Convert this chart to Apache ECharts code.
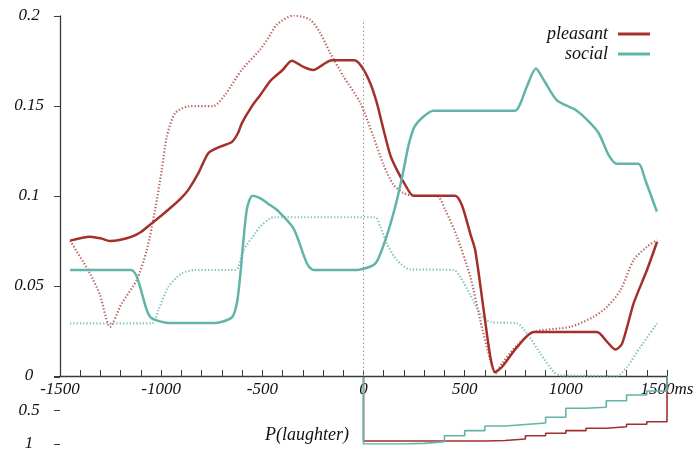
<!DOCTYPE html>
<html>
<head>
<meta charset="utf-8">
<script src="https://cdn.jsdelivr.net/npm/echarts@6/dist/echarts.min.js"></script>
<style>html,body{margin:0;padding:0;background:#fff}#c{width:699px;height:450px}</style>
</head>
<body>
<div id="c"></div>
<script>
// ---- data (time in ms) ----
var tPleasant = [-1450,-1352,-1300,-1253,-1200,-1145,-1100,-1047,-1000,-948,-900,-866,-816,-767,-717,-651,-620,-601,-552,-511,-462,-445,-400,-354,-297,-248,-200,-157,-45,-8,33,66,99,132,165,206,247,453,486,528,552,594,627,651,684,759,841,1154,1204,1245,1278,1335,1401,1451];
var pleasant  = [0.0752,0.0774,0.0765,0.075,0.0757,0.0774,0.080,0.0848,0.089,0.094,0.099,0.1034,0.1127,0.1238,0.127,0.130,0.135,0.1405,0.1498,0.156,0.1637,0.1656,0.170,0.1752,0.1717,0.170,0.173,0.1754,0.1754,0.1717,0.1628,0.1517,0.1368,0.1229,0.1145,0.1062,0.1002,0.1002,0.095,0.079,0.070,0.0366,0.0106,0.0022,0.005,0.016,0.0245,0.0245,0.019,0.0147,0.018,0.0403,0.0589,0.0746];

var tPleasantDot = [-1450,-1352,-1302,-1253,-1195,-1121,-1071,-1030,-997,-972,-931,-866,-742,-684,-601,-511,-470,-428,-346,-264,-214,-165,-99,-16,49,99,148,198,247,363,404,462,528,577,627,651,684,759,841,1022,1137,1204,1270,1335,1401,1451];
var pleasantDot  = [0.0752,0.057,0.0449,0.0273,0.0403,0.0533,0.070,0.0923,0.1145,0.133,0.146,0.1498,0.150,0.1563,0.1702,0.1813,0.1879,0.1953,0.2003,0.198,0.1906,0.1795,0.1665,0.1517,0.133,0.1173,0.1062,0.1016,0.1002,0.1,0.0923,0.0774,0.0551,0.031,0.0087,0.0013,0.0069,0.0171,0.0245,0.0273,0.0329,0.0384,0.0477,0.0644,0.0718,0.0756];

var tSocial = [-1450,-1148,-1120,-1071,-1046,-964,-734,-651,-626,-610,-577,-549,-511,-462,-428,-346,-280,-248,-33,49,74,124,165,198,223,251,297,346,750,775,808,852,890,956,1047,1104,1162,1211,1252,1359,1392,1450];
var social  = [0.0589,0.0589,0.0551,0.0366,0.032,0.0295,0.0295,0.0325,0.0403,0.055,0.0923,0.1002,0.0988,0.095,0.0923,0.082,0.0626,0.0589,0.0589,0.0616,0.0654,0.0811,0.0978,0.1145,0.1284,0.1383,0.1442,0.1474,0.1474,0.1513,0.161,0.1708,0.1646,0.1531,0.1479,0.1424,0.135,0.1229,0.1179,0.1179,0.109,0.0913];

var tSocialDot = [-1450,-1046,-1014,-964,-898,-832,-634,-593,-535,-511,-462,-445,58,83,115,165,231,445,478,528,577,627,759,808,874,940,973,1252,1302,1368,1451];
var socialDot  = [0.0292,0.0292,0.0366,0.0496,0.057,0.0589,0.0589,0.070,0.0793,0.083,0.0876,0.0882,0.0882,0.083,0.0737,0.0644,0.0592,0.0589,0.0551,0.045,0.0347,0.030,0.0292,0.0236,0.0125,0.0022,0.0004,0.0,0.005,0.016,0.0292];

// P(laughter) step curves (value holds from its time until the next time)
var tStepSocial = [0,0,200,300,400,500,600,700,800,900,1000,1100,1200,1300,1400,1500];
var stepSocial  = [0,1.0,0.99,0.966,0.876,0.80,0.731,0.709,0.687,0.601,0.467,0.452,0.354,0.269,0.209,0];
var tStepPleasant = [0,0,600,700,800,900,1000,1100,1200,1300,1400,1500];
var stepPleasant  = [0,0.955,0.948,0.925,0.876,0.84,0.80,0.766,0.742,0.706,0.667,0];

var xTicks = [-1500,-1000,-500,0,500,1000,1500];

function zip(a,b){ return a.map(function(v,i){ return [v,b[i]]; }); }

var RED = '#a3302b', TEAL = '#62b4a9';
var FONT = '"Liberation Serif", "DejaVu Serif", serif';
var AX = '#3a3a3a';

var chart = echarts.init(document.getElementById('c'), null, {renderer:'canvas'});
chart.setOption({
  animation: false,
  backgroundColor: '#fff',
  grid: [
    {left: 60, right: 32, top: 16, bottom: 74, outerBoundsMode: 'none', containLabel: false},
    {left: 60, right: 32, top: 377, bottom: 6, outerBoundsMode: 'none', containLabel: false}
  ],
  legend: {
    data: ['pleasant','social'],
    orient: 'vertical', right: 44, top: 20, align: 'right',
    icon: 'rect', itemWidth: 32, itemHeight: 3, itemGap: 2,
    textStyle: {fontFamily: FONT, fontStyle: 'italic', fontSize: 18, color: '#111', lineHeight: 17, padding: [0,5,0,0]}
  },
  xAxis: [
    {gridIndex: 0, type: 'value', min: xTicks[0], max: xTicks[xTicks.length-1], interval: 500,
     axisLine: {show: true, onZero: false, lineStyle: {color: AX, width: 1.3}},
     axisTick: {show: true, inside: true, length: 6, lineStyle: {color: AX}},
     minorTick: {show: true, splitNumber: 5, length: 6, lineStyle: {color: AX}},
     splitLine: {show: false},
     axisLabel: {show: true, margin: 5, showMinLabel: true, showMaxLabel: true,
       fontFamily: FONT, fontStyle: 'italic', fontSize: 17, color: '#111',
       formatter: function(v){ return v === 1500 ? '1500ms' : String(v); }}},
    {gridIndex: 1, type: 'value', min: xTicks[0], max: xTicks[xTicks.length-1], interval: 500,
     axisLine: {show: false, onZero: false}, axisTick: {show: false}, axisLabel: {show: false}, splitLine: {show: false}}
  ],
  yAxis: [
    {gridIndex: 0, type: 'value', min: 0, max: 0.2, interval: 0.05,
     axisLine: {show: true, onZero: false, lineStyle: {color: AX, width: 1.3}},
     axisTick: {show: true, inside: false, length: 6, lineStyle: {color: AX}},
     splitLine: {show: false},
     axisLabel: {margin: 31, align: 'center', fontFamily: FONT, fontStyle: 'italic', fontSize: 17, color: '#111', showMinLabel: true, showMaxLabel: true}},
    {gridIndex: 1, type: 'value', min: 0, max: 1, interval: 0.5, inverse: true,
     axisLine: {show: false, onZero: false},
     axisTick: {show: true, inside: false, length: 6, lineStyle: {color: AX}},
     splitLine: {show: false},
     axisLabel: {margin: 31, align: 'center', fontFamily: FONT, fontStyle: 'italic', fontSize: 17, color: '#111',
       formatter: function(v){ return v === 0 ? '' : String(v); }}}
  ],
  graphic: [
    {type: 'text', right: 350, top: 426, style: {text: 'P(laughter)', font: 'italic 18px ' + FONT, fill: '#111'}}
  ],
  series: [
    {name: 'pleasant-dotted', type: 'line', xAxisIndex: 0, yAxisIndex: 0, data: zip(tPleasantDot, pleasantDot),
     showSymbol: false, symbol: 'none', smooth: 0.25, z: 2,
     lineStyle: {color: RED, width: 2.2, type: [1.3, 2], opacity: 0.75}, itemStyle: {color: RED},
     markLine: {silent: true, symbol: 'none', label: {show: false},
       lineStyle: {color: '#999', type: [1.5, 2.5], width: 1},
       data: [[{coord: [0, 0]}, {coord: [0, 0.198]}]]}},
    {name: 'social-dotted', type: 'line', xAxisIndex: 0, yAxisIndex: 0, data: zip(tSocialDot, socialDot),
     showSymbol: false, symbol: 'none', smooth: 0.25, z: 2,
     lineStyle: {color: TEAL, width: 2.2, type: [1.3, 2], opacity: 0.8}, itemStyle: {color: TEAL}},
    {name: 'pleasant', type: 'line', xAxisIndex: 0, yAxisIndex: 0, data: zip(tPleasant, pleasant),
     showSymbol: false, symbol: 'none', smooth: 0.25, z: 3,
     lineStyle: {color: RED, width: 2.5}, itemStyle: {color: RED}},
    {name: 'social', type: 'line', xAxisIndex: 0, yAxisIndex: 0, data: zip(tSocial, social),
     showSymbol: false, symbol: 'none', smooth: 0.25, z: 3,
     lineStyle: {color: TEAL, width: 2.5}, itemStyle: {color: TEAL}},
    {name: 'pleasant-step', type: 'line', xAxisIndex: 1, yAxisIndex: 1, data: zip(tStepPleasant, stepPleasant),
     showSymbol: false, symbol: 'none', step: 'end', z: 3,
     lineStyle: {color: RED, width: 1.6}},
    {name: 'social-step', type: 'line', xAxisIndex: 1, yAxisIndex: 1, data: zip(tStepSocial, stepSocial),
     showSymbol: false, symbol: 'none', step: 'end', z: 4,
     lineStyle: {color: TEAL, width: 1.6}}
  ]
});
</script>
</body>
</html>
